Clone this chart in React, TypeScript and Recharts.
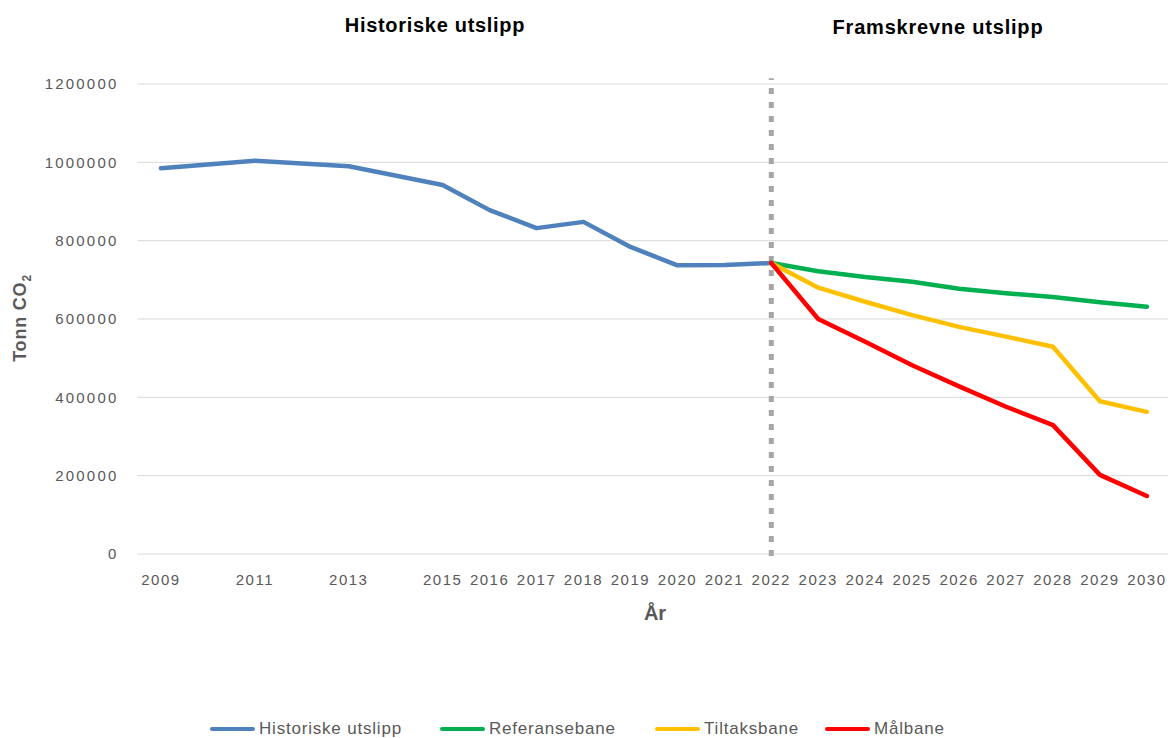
import React from "react";
import { LineChart, Line, XAxis, YAxis, CartesianGrid, ReferenceLine } from "recharts";

const years = [2009, 2011, 2013, 2015, 2016, 2017, 2018, 2019, 2020, 2021, 2022, 2023, 2024, 2025, 2026, 2027, 2028, 2029, 2030];
const historiske = [985000, 1004000, 990000, 942000, 878000, 832000, 848000, 784000, 737000, 738000, 743000, null, null, null, null, null, null, null, null];
const referansebane = [null, null, null, null, null, null, null, null, null, null, 743000, 722000, 707000, 695000, 677000, 666000, 656000, 643000, 631000];
const tiltaksbane = [null, null, null, null, null, null, null, null, null, null, 743000, 680000, 644000, 610000, 580000, 555000, 529000, 390000, 363000];
const malbane = [null, null, null, null, null, null, null, null, null, null, 743000, 600000, 542000, 482000, 428000, 376000, 329000, 202000, 148000];
const yTicks = [0, 200000, 400000, 600000, 800000, 1000000, 1200000];
const splitYear = 2022;

const seriesInfo = [
  { key: "historiske", name: "Historiske utslipp", color: "#4f81bd" },
  { key: "referansebane", name: "Referansebane", color: "#00b050" },
  { key: "tiltaksbane", name: "Tiltaksbane", color: "#ffc000" },
  { key: "malbane", name: "Målbane", color: "#ff0000" },
];

const data = years.map((y, i) => ({
  year: y,
  historiske: historiske[i],
  referansebane: referansebane[i],
  tiltaksbane: tiltaksbane[i],
  malbane: malbane[i],
}));

const FONT = "'Liberation Sans', Arial, sans-serif";
const GRAY = "#595959";

const legendPos = [210, 440, 655, 825];

export default function App() {
  return (
    <div style={{ position: "relative", width: 1170, height: 738, background: "#fff", fontFamily: FONT, overflow: "hidden" }}>
      <style>{"body{margin:0;}"}</style>
      <div style={{ position: "absolute", left: 295, width: 280, top: 13, textAlign: "center", fontWeight: "bold", fontSize: 20, lineHeight: "24px", color: "#000", letterSpacing: 0.7 }}>
        Historiske utslipp
      </div>
      <div style={{ position: "absolute", left: 798, width: 280, top: 15, textAlign: "center", fontWeight: "bold", fontSize: 20, lineHeight: "24px", color: "#000", letterSpacing: 0.8 }}>
        Framskrevne utslipp
      </div>
      <div style={{ position: "absolute", left: 22, top: 318, width: 0, height: 0 }}>
        <div style={{ position: "absolute", transform: "translate(-50%, -50%) rotate(-90deg)", whiteSpace: "nowrap", fontWeight: "bold", fontSize: 18, color: GRAY, letterSpacing: 0.8 }}>
          Tonn CO<sub style={{ fontSize: 12 }}>2</sub>
        </div>
      </div>
      <div style={{ position: "absolute", left: 655, top: 613, width: 0, height: 0 }}>
        <div style={{ position: "absolute", transform: "translate(-50%, -50%)", whiteSpace: "nowrap", fontWeight: "bold", fontSize: 20, color: GRAY }}>
          År
        </div>
      </div>
      <div style={{ position: "absolute", left: 0, top: 0 }}>
        <LineChart width={1170} height={620} data={data} margin={{ top: 84, right: 2, left: 0, bottom: 36 }}>
          <CartesianGrid vertical={false} stroke="#d9d9d9" strokeWidth={1} />
          <XAxis
            dataKey="year"
            type="number"
            domain={[2008.5, 2030.45]}
            ticks={years}
            interval={0}
            axisLine={false}
            tickLine={false}
            tickSize={8}
            tickMargin={12}
            height={30}
            tick={{ fill: GRAY, fontSize: 15, fontFamily: FONT, letterSpacing: 1.5 }}
          />
          <YAxis
            type="number"
            domain={[0, 1200000]}
            ticks={yTicks}
            width={137.5}
            axisLine={false}
            tickLine={false}
            tickSize={8}
            tickMargin={11}
            tick={{ fill: GRAY, fontSize: 15, fontFamily: FONT, letterSpacing: 2.2 }}
          />
          <ReferenceLine
            segment={[{ x: splitYear, y: -5000 }, { x: splitYear, y: 1215000 }]}
            ifOverflow="visible"
            stroke="#a6a6a6"
            strokeWidth={5}
            strokeDasharray="6 8"
          />
          {seriesInfo.map((s) => (
            <Line
              key={s.key}
              dataKey={s.key}
              name={s.name}
              stroke={s.color}
              strokeWidth={4.5}
              dot={false}
              activeDot={false}
              isAnimationActive={false}
              strokeLinejoin="round"
              strokeLinecap="round"
            />
          ))}
        </LineChart>
      </div>
      {seriesInfo.map((s, i) => (
        <div key={s.key} style={{ position: "absolute", left: legendPos[i], top: 719, display: "flex", alignItems: "center", height: 20 }}>
          <div style={{ width: 45, height: 4, background: s.color, borderRadius: 2, marginRight: 4 }} />
          <span style={{ fontSize: 17, color: GRAY, whiteSpace: "nowrap", letterSpacing: 0.8 }}>{s.name}</span>
        </div>
      ))}
    </div>
  );
}
